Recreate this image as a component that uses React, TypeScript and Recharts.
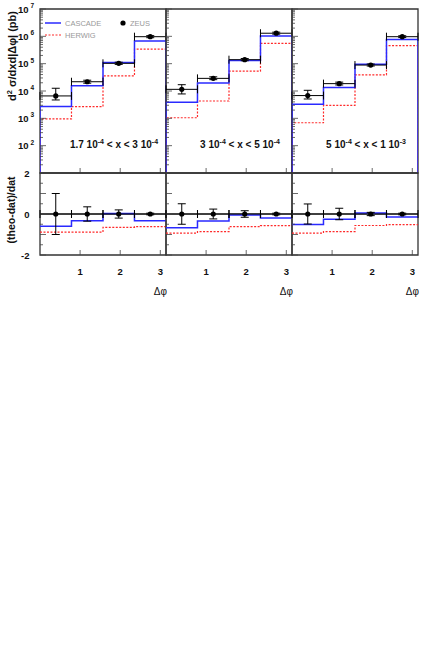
import React from "react";
import {
  ComposedChart, Line, Scatter, ErrorBar, XAxis, YAxis, ReferenceArea, ReferenceLine, Legend
} from "recharts";

// bins in delta phi
const binEdges = [0, 0.785, 1.571, 2.356, 3.142];
const binCentres = [0.393, 1.178, 1.963, 2.749];
const binHalf = [0.393, 0.393, 0.393, 0.393];

// x ranges of the three panels: [mantissa low, exp low, mantissa high, exp high]
const xRanges = [
  ["1.7 10", "-4", "3 10", "-4"],
  ["3 10", "-4", "5 10", "-4"],
  ["5 10", "-4", "1 10", "-3"],
];

// cross sections (pb)
const zeusP1 = [6600, 21800, 103000, 970000];
const zeusLoP1 = [1900, 2500, 9000, 80000];
const zeusHiP1 = [6000, 3000, 10000, 90000];
const zeusP2 = [11500, 29000, 140000, 1300000];
const zeusLoP2 = [3700, 3000, 12000, 100000];
const zeusHiP2 = [5500, 4000, 14000, 120000];
const zeusP3 = [6800, 18600, 89000, 970000];
const zeusLoP3 = [1700, 2000, 7000, 70000];
const zeusHiP3 = [3800, 2500, 8000, 80000];

const cascadeP1 = [2700, 15500, 110000, 670000];
const cascadeP2 = [3900, 19500, 130000, 1030000];
const cascadeP3 = [3300, 13500, 96000, 770000];

const herwigP1 = [950, 2700, 36000, 340000];
const herwigP2 = [1050, 4300, 53000, 550000];
const herwigP3 = [690, 3000, 39000, 460000];

// (theo-dat)/dat
const ratioCascadeP1 = [-0.6, -0.33, 0.03, -0.33];
const ratioCascadeP2 = [-0.67, -0.34, -0.05, -0.2];
const ratioCascadeP3 = [-0.51, -0.26, 0.05, -0.15];
const ratioHerwigP1 = [-0.88, -0.88, -0.65, -0.62];
const ratioHerwigP2 = [-0.93, -0.86, -0.62, -0.57];
const ratioHerwigP3 = [-0.93, -0.86, -0.56, -0.52];
const ratioErrP1 = [1.0, 0.35, 0.2, 0.04];
const ratioErrP2 = [0.5, 0.24, 0.16, 0.04];
const ratioErrP3 = [0.49, 0.28, 0.08, 0.04];

const decades = [10, 100, 1000, 10000, 100000, 1000000, 10000000];
const minorSteps = [2, 3, 4, 5, 6, 7, 8, 9];
const ratioTicks = [-2, -1.5, -1, -0.5, 0, 0.5, 1, 1.5, 2];
const ratioLabels = [-2, 0, 2];
const phiTicks = [1, 2, 3];

const panelEdges = [40, 166, 292, 418];
const W = 447;
const FONT = "'Liberation Sans', Arial, sans-serif";
const BLUE = "#2a2aff";
const RED = "#ff2a2a";
const PI = 3.142;

const logTicks = decades.flatMap((d, i) =>
  i < decades.length - 1 ? [d, ...minorSteps.map((m) => m * d)] : [d]
);

const panels = [
  { zeus: zeusP1, lo: zeusLoP1, hi: zeusHiP1, cas: cascadeP1, her: herwigP1,
    rc: ratioCascadeP1, rh: ratioHerwigP1, re: ratioErrP1 },
  { zeus: zeusP2, lo: zeusLoP2, hi: zeusHiP2, cas: cascadeP2, her: herwigP2,
    rc: ratioCascadeP2, rh: ratioHerwigP2, re: ratioErrP2 },
  { zeus: zeusP3, lo: zeusLoP3, hi: zeusHiP3, cas: cascadeP3, her: herwigP3,
    rc: ratioCascadeP3, rh: ratioHerwigP3, re: ratioErrP3 },
];

// histogram outline from bin values
const steps = (vals: number[], floor?: number) => {
  const pts: { x: number; y: number }[] = [];
  if (floor !== undefined) pts.push({ x: binEdges[0], y: floor });
  vals.forEach((v, i) => {
    pts.push({ x: binEdges[i], y: v });
    pts.push({ x: binEdges[i + 1], y: v });
  });
  if (floor !== undefined) pts.push({ x: binEdges[binEdges.length - 1], y: floor });
  return pts;
};

const LogTick = ({ y, payload, left, labels }: any) => {
  const v = payload.value;
  const k = Math.round(Math.log10(v));
  const major = Math.abs(Math.log10(v) - k) < 1e-6;
  return (
    <g>
      <line x1={left} x2={left + (major ? 6 : 3)} y1={y} y2={y} stroke="#444" strokeWidth={0.8} />
      {labels && major && k >= 2 && (
        <g fontFamily={FONT} fontWeight="bold" fill="#111">
          <text x={28.5} y={y + 3.5} fontSize={9.5} textAnchor="end">10</text>
          <text x={30.5} y={y - 1} fontSize={6.5}>{k}</text>
        </g>
      )}
    </g>
  );
};

const RatioTick = ({ y, payload, left, labels }: any) => {
  const v = payload.value;
  const major = Number.isInteger(v);
  return (
    <g>
      <line x1={left} x2={left + (major ? 6 : 3)} y1={y} y2={y} stroke="#444" strokeWidth={0.8} />
      {labels && ratioLabels.includes(v) && (
        <text x={29.5} y={y + 3.5} fontSize={9.5} fontWeight="bold" textAnchor="end" fontFamily={FONT} fill="#111">
          {v}
        </text>
      )}
    </g>
  );
};

const PhiTick = ({ x, payload, bottom, labels }: any) => (
  <g>
    <line x1={x} x2={x} y1={bottom} y2={bottom - 5} stroke="#444" strokeWidth={0.8} />
    {labels && (
      <text x={x} y={bottom + 20} fontSize={9.5} fontWeight="bold" textAnchor="middle" fontFamily={FONT} fill="#111">
        {payload.value}
      </text>
    )}
  </g>
);

const dot = (p: any) => <circle cx={p.cx} cy={p.cy} r={2.6} fill="#000" />;

const LegendBox = () => (
  <svg width={W} height={50} style={{ display: "block" }}>
    <line x1={45} x2={61} y1={23} y2={23} stroke={BLUE} strokeWidth={1.5} />
    <text x={65} y={26} fontSize={7.5} fill="#999" fontFamily={FONT}>CASCADE</text>
    <line x1={45} x2={61} y1={35} y2={35} stroke={RED} strokeWidth={1.2} strokeDasharray="2 1.5" />
    <text x={65} y={38} fontSize={7.5} fill="#999" fontFamily={FONT}>HERWIG</text>
    <circle cx={123} cy={23} r={2.6} fill="#000" />
    <text x={130} y={26} fontSize={7.5} fill="#999" fontFamily={FONT}>ZEUS</text>
  </svg>
);

const TopPanel = ({ i }: { i: number }) => {
  const p = panels[i];
  const left = panelEdges[i];
  const right = panelEdges[i + 1];
  const pts = p.zeus.map((v, j) => ({
    x: binCentres[j], y: v, ey: [p.lo[j], p.hi[j]], ex: binHalf[j],
  }));
  return (
    <div style={{ position: "absolute", left: 0, top: 0 }}>
      <ComposedChart width={W} height={180} margin={{ top: 9, bottom: 3, left: left - 4, right: W - right }}>
        <XAxis dataKey="x" type="number" domain={[0, PI]} ticks={phiTicks} height={4}
          axisLine={false} tickLine={false} allowDataOverflow interval={0}
          tick={(t: any) => <PhiTick {...t} bottom={173} labels={false} />} />
        <YAxis type="number" scale="log" domain={[10, 10000000]} ticks={logTicks} width={4}
          axisLine={false} tickLine={false} allowDataOverflow interval={0}
          tick={(t: any) => <LogTick {...t} left={left} labels={i === 0} />} />
        <ReferenceArea x1={0} x2={PI} y1={10} y2={10000000} fill="none" stroke="#333" strokeWidth={1.3} ifOverflow="visible" />
        <Line data={steps(p.her, 10)} dataKey="y" stroke={RED} strokeWidth={1.2} strokeDasharray="2 1.5"
          dot={false} isAnimationActive={false} />
        <Line data={steps(p.cas, 10)} dataKey="y" stroke={BLUE} strokeWidth={1.5}
          dot={false} isAnimationActive={false} />
        <Scatter data={pts} dataKey="y" shape={dot} isAnimationActive={false}>
          <ErrorBar dataKey="ey" direction="y" width={4} stroke="#000" strokeWidth={1} isAnimationActive={false} />
          <ErrorBar dataKey="ex" direction="x" width={4} stroke="#000" strokeWidth={1} isAnimationActive={false} />
        </Scatter>
        {i === 0 && (
          <Legend layout="horizontal" align="center" verticalAlign="middle"
            wrapperStyle={{ left: 0, top: 0, width: W, height: 50 }} content={() => <LegendBox />} />
        )}
      </ComposedChart>
    </div>
  );
};

const BottomPanel = ({ i }: { i: number }) => {
  const p = panels[i];
  const left = panelEdges[i];
  const right = panelEdges[i + 1];
  const pts = p.re.map((e, j) => ({ x: binCentres[j], y: 0, ey: e, ex: binHalf[j] }));
  return (
    <div style={{ position: "absolute", left: 0, top: 0 }}>
      <ComposedChart width={W} height={300} margin={{ top: 173, bottom: 41, left: left - 4, right: W - right }}>
        <XAxis dataKey="x" type="number" domain={[0, PI]} ticks={phiTicks} height={4}
          axisLine={false} tickLine={false} allowDataOverflow interval={0}
          tick={(t: any) => <PhiTick {...t} bottom={255} labels />} />
        <YAxis type="number" domain={[-2, 2]} ticks={ratioTicks} width={4}
          axisLine={false} tickLine={false} allowDataOverflow interval={0}
          tick={(t: any) => <RatioTick {...t} left={left} labels={i === 0} />} />
        <ReferenceArea x1={0} x2={PI} y1={-2} y2={2} fill="none" stroke="#333" strokeWidth={1.3} ifOverflow="visible" />
        <ReferenceLine y={0} stroke="#000" strokeWidth={1} />
        <Line data={steps(p.rh)} dataKey="y" stroke={RED} strokeWidth={1.2} strokeDasharray="2 1.5"
          dot={false} isAnimationActive={false} />
        <Line data={steps(p.rc)} dataKey="y" stroke={BLUE} strokeWidth={1.5}
          dot={false} isAnimationActive={false} />
        <Scatter data={pts} dataKey="y" shape={dot} isAnimationActive={false}>
          <ErrorBar dataKey="ey" direction="y" width={4} stroke="#000" strokeWidth={1} isAnimationActive={false} />
          <ErrorBar dataKey="ex" direction="x" width={4} stroke="#000" strokeWidth={1} isAnimationActive={false} />
        </Scatter>
      </ComposedChart>
    </div>
  );
};

const Annotations = () => (
  <svg width={W} height={300} style={{ position: "absolute", left: 0, top: 0, pointerEvents: "none" }}>
    <g fontFamily={FONT} fontWeight="bold" fill="#111">
      <text transform="translate(16,56) rotate(-90)" textAnchor="middle" fontSize={11}>
        d<tspan fontSize={7.5} dy={-4}>2</tspan><tspan dy={4}> σ/dxd|Δφ| (pb)</tspan>
      </text>
      <text transform="translate(15,210) rotate(-90)" textAnchor="middle" fontSize={10.5}>
        (theo-dat)/dat
      </text>
      {xRanges.map((r, i) => (
        <text key={i} x={(panelEdges[i] + panelEdges[i + 1]) / 2 + 11} y={148} textAnchor="middle" fontSize={10}>
          {r[0]}<tspan fontSize={7} dy={-4}>{r[1]}</tspan>
          <tspan dy={4}>{" < x < " + r[2]}</tspan><tspan fontSize={7} dy={-4}>{r[3]}</tspan>
        </text>
      ))}
    </g>
    {[0, 1, 2].map((i) => (
      <text key={i} x={panelEdges[i + 1] + 1} y={295} textAnchor="end" fontSize={10} fontFamily={FONT} fill="#111">
        Δφ
      </text>
    ))}
  </svg>
);

export default function App() {
  return (
    <div style={{ position: "absolute", left: 0, top: 0, width: W, height: 671, background: "#fff" }}>
      {[0, 1, 2].map((i) => <TopPanel key={"t" + i} i={i} />)}
      {[0, 1, 2].map((i) => <BottomPanel key={"b" + i} i={i} />)}
      <Annotations />
    </div>
  );
}
